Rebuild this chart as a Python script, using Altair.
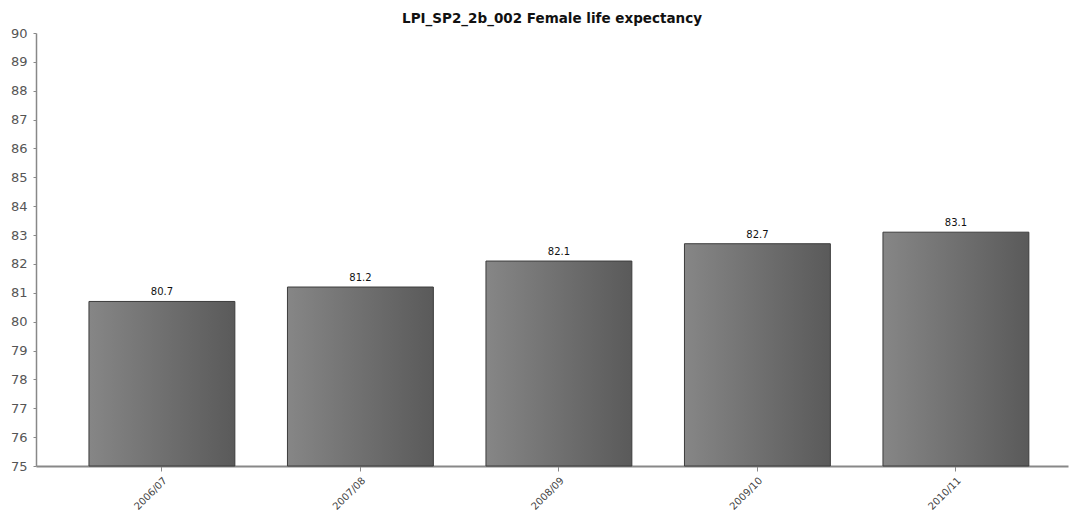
import altair as alt
import pandas as pd

periods = ["2006/07", "2007/08", "2008/09", "2009/10", "2010/11"]
values = [80.7, 81.2, 82.1, 82.7, 83.1]
y_ticks = list(range(75, 91))

df = pd.DataFrame({"period": periods, "value": values})

x_axis = alt.Axis(
    labelAngle=-45,
    labelFont="DejaVu Sans",
    labelFontSize=10,
    labelColor="#444444",
    labelOverlap=False,
    domainColor="#888888",
    domainWidth=2,
    tickColor="#888888",
    tickSize=5,
    labelPadding=4,
)
y_axis = alt.Axis(
    values=y_ticks,
    tickCount=16,
    labelFont="DejaVu Sans",
    labelFontSize=13,
    labelColor="#555555",
    labelOverlap=False,
    labelFlush=False,
    domainColor="#888888",
    domainWidth=1.5,
    tickColor="#888888",
    tickSize=3,
    labelPadding=6,
    grid=False,
)
x_scale = alt.Scale(paddingInner=0.265, paddingOuter=0.232, align=0.575)
y_scale = alt.Scale(domain=[75, 90], zero=False, nice=False)

bars = alt.Chart(df).mark_bar(
    color=alt.Gradient(
        gradient="linear",
        stops=[
            alt.GradientStop(color="#868686", offset=0),
            alt.GradientStop(color="#5a5a5a", offset=1),
        ],
        x1=0, x2=1, y1=0, y2=0,
    ),
    stroke="#3c3c3c",
    strokeWidth=1,
).encode(
    x=alt.X("period:N", sort=periods, title=None, scale=x_scale, axis=x_axis),
    y=alt.Y("value:Q", scale=y_scale, title=None, axis=y_axis),
    y2=alt.datum(75),
)

labels = alt.Chart(df).mark_text(
    dy=-9, font="DejaVu Sans", fontSize=10, color="#111111"
).encode(
    x=alt.X("period:N", sort=periods, title=None, scale=x_scale, axis=x_axis),
    y=alt.Y("value:Q", scale=y_scale, title=None, axis=y_axis),
    text=alt.Text("value:Q", format=".1f"),
)

chart = (
    alt.layer(bars, labels)
    .properties(
        width=1032,
        height=433,
        title=alt.TitleParams(
            "LPI_SP2_2b_002 Female life expectancy",
            font="DejaVu Sans",
            fontSize=13.5,
            fontWeight="bold",
            color="#111111",
            offset=2,
        ),
        autosize=alt.AutoSizeParams(type="none"),
        padding={"left": 28, "top": 25, "right": 2, "bottom": 49},
    )
    .configure_view(stroke=None)
    .configure_axisY(labelOverlap=False)
)

chart.save("out.html", embed_options={"renderer": "svg", "actions": False})
